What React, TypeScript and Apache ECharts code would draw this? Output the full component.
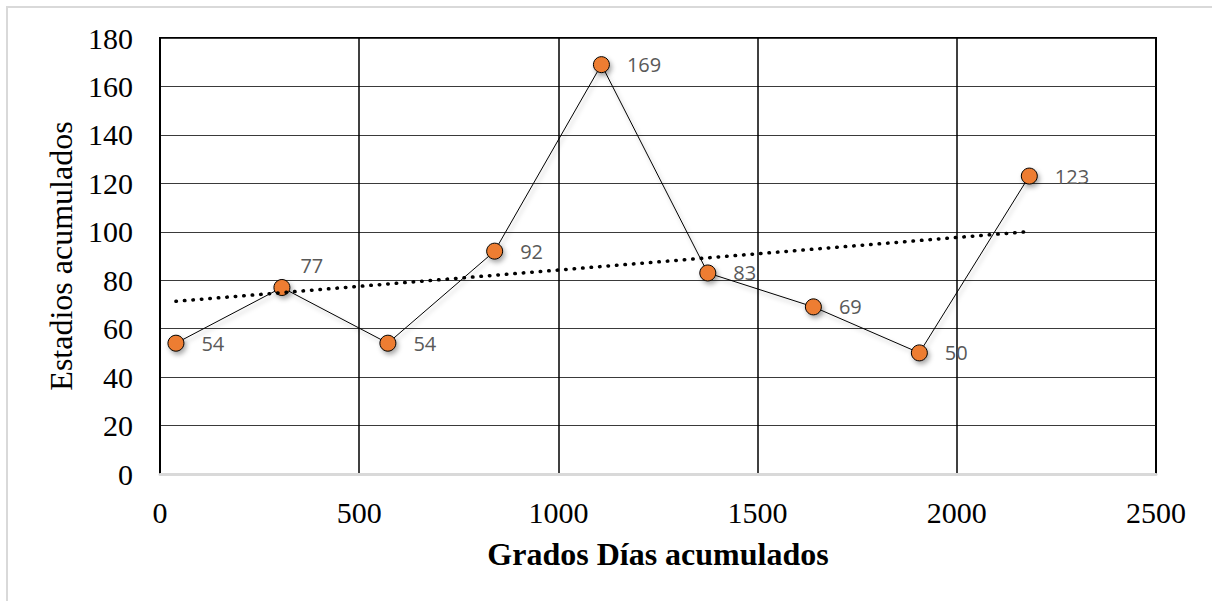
import React, { useEffect, useRef } from "react";
import * as echarts from "echarts";

const gradosDias = [40, 306, 572, 840, 1108, 1375, 1640, 1906, 2182];
const estadios = [54, 77, 54, 92, 169, 83, 69, 50, 123];
const trendX = [40, 2182];
const trendY = [71.3, 100.1];
const xTicks = { min: 0, max: 2500, interval: 500 };
const yTicks = { min: 0, max: 180, interval: 20 };

export default function App() {
  const ref = useRef<HTMLDivElement>(null);
  useEffect(() => {
    if (!ref.current) return;
    const chart = echarts.init(ref.current, null, { renderer: "svg" });
    const serif = "'Liberation Serif', 'Times New Roman', serif";
    const mainData = gradosDias.map((x, i) => {
      const d: any = { value: [x, estadios[i]] };
      if (i === 1) d.label = { offset: [-7, -22] };
      return d;
    });
    chart.setOption({
      animation: false,
      backgroundColor: "#ffffff",
      graphic: [
        {
          type: "rect",
          shape: { x: 7, y: 7, width: 1230, height: 630 },
          style: { fill: "none", stroke: "#d9d9d9", lineWidth: 2 },
          silent: true,
        },
      ],
      grid: {
        left: 160,
        top: 38,
        right: 56,
        bottom: 127,
        show: true,
        borderColor: "#000",
        borderWidth: 2,
        backgroundColor: "transparent",
      },
      xAxis: {
        type: "value",
        min: xTicks.min,
        max: xTicks.max,
        interval: xTicks.interval,
        name: "Grados Días acumulados",
        nameLocation: "middle",
        nameGap: 64,
        nameTextStyle: {
          fontFamily: serif,
          fontSize: 32,
          fontWeight: "bold",
          color: "#000",
        },
        axisLine: { show: true, lineStyle: { color: "#d9d9d9", width: 3 } },
        axisTick: { show: false },
        axisLabel: {
          fontFamily: serif,
          fontSize: 30,
          color: "#000",
          margin: 23,
          formatter: (v: number) => String(v),
        },
        splitLine: { show: true, lineStyle: { color: "#000", width: 1.5 } },
      },
      yAxis: {
        type: "value",
        min: yTicks.min,
        max: yTicks.max,
        interval: yTicks.interval,
        name: "Estadios acumulados",
        nameLocation: "middle",
        nameGap: 82,
        nameTextStyle: { fontFamily: serif, fontSize: 32, color: "#000" },
        axisLine: { show: true, lineStyle: { color: "#000", width: 2 } },
        axisTick: { show: false },
        axisLabel: {
          fontFamily: serif,
          fontSize: 30,
          color: "#000",
          margin: 27,
          formatter: (v: number) => String(v),
        },
        splitLine: { show: true, lineStyle: { color: "#3a3a3a", width: 1 } },
      },
      series: [
        {
          type: "line",
          data: mainData,
          z: 3,
          symbol: "circle",
          symbolSize: 16,
          lineStyle: {
            color: "#000",
            width: 1,
            shadowColor: "rgba(0,0,0,0.3)",
            shadowBlur: 4,
            shadowOffsetX: 2,
            shadowOffsetY: 3,
          },
          itemStyle: {
            color: "#ed7d31",
            borderColor: "#000",
            borderWidth: 1,
            shadowColor: "rgba(0,0,0,0.35)",
            shadowBlur: 5,
            shadowOffsetX: 2,
            shadowOffsetY: 3,
          },
          label: {
            show: true,
            position: "right",
            distance: 17,
            fontFamily: "'Open Sans', 'Noto Sans', sans-serif",
            fontSize: 20,
            color: "#595959",
            formatter: (p: any) => String(p.value[1]),
          },
        },
        {
          type: "line",
          data: trendX.map((x, i) => [x, trendY[i]]),
          z: 4,
          symbol: "none",
          silent: true,
          lineStyle: { color: "#000", width: 3.5, type: [0.5, 8], cap: "round" },
        },
      ],
    });
    return () => chart.dispose();
  }, []);
  return (
    <div
      ref={ref}
      style={{ position: "absolute", left: 0, top: 0, width: 1212, height: 601 }}
    />
  );
}
